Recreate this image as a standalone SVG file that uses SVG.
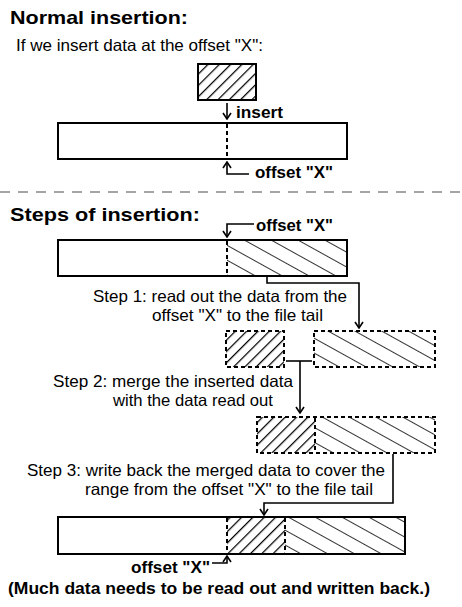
<svg xmlns="http://www.w3.org/2000/svg" width="462" height="607" viewBox="0 0 462 607">
<style>
  text { font-family: "Liberation Sans", Arial, sans-serif; fill: #000; }
  .title { font-size: 19px; font-weight: bold; }
  .lbl { font-size: 16px; font-weight: bold; }
  .txt { font-size: 16.5px; }
  .note { font-size: 17px; font-weight: bold; }
  .solid { fill: none; stroke: #000; stroke-width: 2; }
  .dashed { fill: none; stroke: #000; stroke-width: 2; stroke-dasharray: 4 3; }
  .conn { fill: none; stroke: #000; stroke-width: 1.6; }
  .sep { stroke: #888; stroke-width: 1.5; stroke-dasharray: 10 8; }
</style>
<defs>
  <pattern id="fwd" patternUnits="userSpaceOnUse" width="8" height="20" patternTransform="rotate(45)">
    <line x1="0.6" y1="0" x2="0.6" y2="20" stroke="#000" stroke-width="1.3"/>
  </pattern>
  <pattern id="back" patternUnits="userSpaceOnUse" width="40" height="13" patternTransform="rotate(29)">
    <line x1="0" y1="0.5" x2="40" y2="0.5" stroke="#333" stroke-width="1"/>
  </pattern>
  <marker id="arr" viewBox="0 0 10 10" refX="9" refY="5" markerWidth="10" markerHeight="10" markerUnits="userSpaceOnUse" orient="auto">
    <path d="M3,1 L9,5 L3,9" fill="none" stroke="#000" stroke-width="1.6"/>
  </marker>
</defs>

<rect x="0" y="0" width="462" height="607" fill="#fff"/>

<!-- Section 1 -->
<text class="title" x="10" y="24" textLength="178" lengthAdjust="spacingAndGlyphs">Normal insertion:</text>
<text class="txt" x="16" y="51" textLength="247" lengthAdjust="spacingAndGlyphs">If we insert data at the offset "X":</text>

<g id="insert-data">
  <rect x="198" y="64" width="58" height="36" fill="url(#fwd)"/>
  <rect x="198" y="64" width="58" height="36" class="solid"/>
</g>

<g id="file-normal">
  <rect x="58" y="123" width="289" height="36" fill="#fff"/>
  <rect x="58" y="123" width="289" height="36" class="solid"/>
  <line x1="227" y1="124" x2="227" y2="158" class="dashed"/>
</g>

<line x1="0" y1="192" x2="462" y2="192" class="sep"/>

<!-- Section 2 -->
<text class="title" x="10" y="221" textLength="190" lengthAdjust="spacingAndGlyphs">Steps of insertion:</text>

<g id="file-before">
  <rect x="227" y="240" width="120" height="36" fill="url(#back)"/>
  <rect x="58" y="240" width="289" height="36" class="solid"/>
  <line x1="227" y1="241" x2="227" y2="275" class="dashed"/>
</g>

<g id="inserted-copy">
  <rect x="226" y="331" width="58" height="36" fill="url(#fwd)"/>
  <rect x="226" y="331" width="58" height="36" class="dashed"/>
</g>

<g id="read-out">
  <rect x="314" y="331" width="121" height="36" fill="url(#back)"/>
  <rect x="314" y="331" width="121" height="36" class="dashed"/>
</g>

<g id="merged">
  <rect x="257" y="417" width="58" height="36" fill="url(#fwd)"/>
  <rect x="315" y="417" width="120" height="36" fill="url(#back)"/>
  <rect x="257" y="417" width="178" height="36" class="dashed"/>
  <line x1="315" y1="418" x2="315" y2="452" class="dashed"/>
</g>

<g id="file-after">
  <rect x="227" y="517" width="58" height="37" fill="url(#fwd)"/>
  <rect x="285" y="517" width="120" height="37" fill="url(#back)"/>
  <rect x="58" y="517" width="347" height="37" class="solid"/>
  <line x1="227" y1="518" x2="227" y2="553" class="dashed"/>
  <line x1="285" y1="518" x2="285" y2="553" class="dashed"/>
</g>

<g id="connectors">
  <line x1="227" y1="103" x2="227" y2="119" class="conn" marker-end="url(#arr)"/>
  <polyline points="249,174 227,174 227,162" class="conn" marker-end="url(#arr)"/>
  <polyline points="254,224 227,224 227,237" class="conn" marker-end="url(#arr)"/>
  <polyline points="267,277 267,283 359,283 359,328" class="conn" marker-end="url(#arr)"/>
  <line x1="286" y1="361" x2="312" y2="361" class="conn"/>
  <line x1="300" y1="361" x2="300" y2="413" class="conn" marker-end="url(#arr)"/>
  <polyline points="393,454 393,503 264,503 264,515" class="conn" marker-end="url(#arr)"/>
  <polyline points="212,563 227,563 227,556" class="conn" marker-end="url(#arr)"/>
</g>

<text class="lbl" x="236" y="118" textLength="47" lengthAdjust="spacingAndGlyphs">insert</text>
<text class="lbl" x="255" y="178" textLength="78" lengthAdjust="spacingAndGlyphs">offset "X"</text>
<text class="lbl" x="256" y="231" textLength="77" lengthAdjust="spacingAndGlyphs">offset "X"</text>

<text class="txt" x="93" y="302" textLength="254" lengthAdjust="spacingAndGlyphs">Step 1: read out the data from the</text>
<text class="txt" x="152" y="321" textLength="171" lengthAdjust="spacingAndGlyphs">offset "X" to the file tail</text>
<text class="txt" x="53" y="387" textLength="240" lengthAdjust="spacingAndGlyphs">Step 2: merge the inserted data</text>
<text class="txt" x="113" y="406" textLength="160" lengthAdjust="spacingAndGlyphs">with the data read out</text>
<text class="txt" x="27" y="476" textLength="358" lengthAdjust="spacingAndGlyphs">Step 3: write back the merged data to cover the</text>
<text class="txt" x="85" y="495" textLength="288" lengthAdjust="spacingAndGlyphs">range from the offset "X" to the file tail</text>

<text class="lbl" x="131" y="573" textLength="79" lengthAdjust="spacingAndGlyphs">offset "X"</text>
<text class="note" x="8" y="594" textLength="422" lengthAdjust="spacingAndGlyphs">(Much data needs to be read out and written back.)</text>
</svg>
